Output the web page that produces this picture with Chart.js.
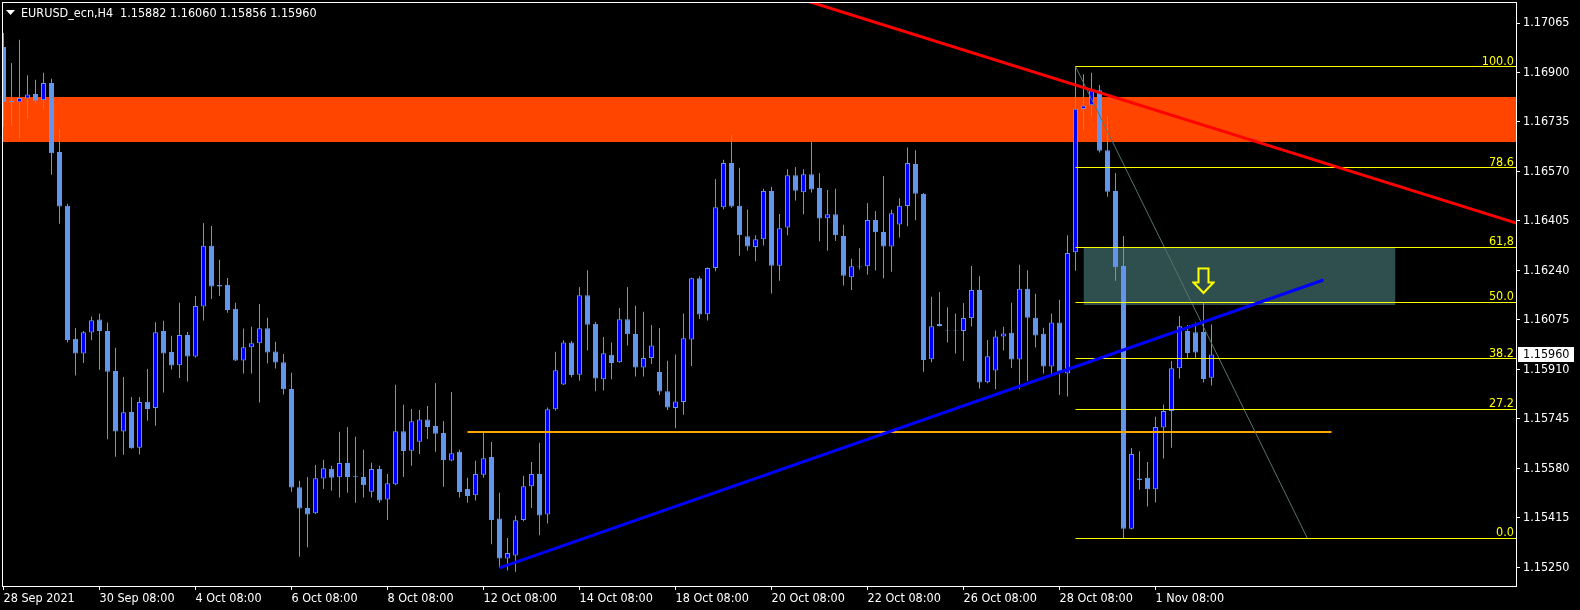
<!DOCTYPE html>
<html><head><meta charset="utf-8">
<script src="https://cdn.jsdelivr.net/npm/chart.js@4.4.1/dist/chart.umd.min.js"></script>
<style>html,body{margin:0;padding:0;background:#000;overflow:hidden}canvas{display:block}</style>
</head><body>
<canvas id="c" width="1580" height="610"></canvas>
<script>
const symbol = "EURUSD_ecn,H4";
const opens = [1.16985,1.16806,1.16801,1.16813,1.16828,1.16808,1.16865,1.16635,1.16456,1.16012,1.15963,1.16033,1.16076,1.16038,1.15905,1.15703,1.15768,1.15649,1.15802,1.15781,1.16038,1.15968,1.15924,1.16025,1.15953,1.16120,1.16322,1.16191,1.16192,1.16112,1.15940,1.15984,1.15997,1.16047,1.15970,1.15934,1.15845,1.15517,1.15448,1.15430,1.15546,1.15579,1.15550,1.15598,1.15554,1.15551,1.15502,1.15578,1.15476,1.15527,1.15704,1.15639,1.15669,1.15743,1.15721,1.15698,1.15606,1.15635,1.15511,1.15490,1.15559,1.15618,1.15413,1.15279,1.15289,1.15408,1.15520,1.15561,1.15426,1.15777,1.15860,1.16000,1.15892,1.16157,1.16062,1.15877,1.15959,1.15934,1.16077,1.16028,1.15916,1.15948,1.15901,1.15837,1.15781,1.15801,1.16010,1.16214,1.16094,1.16248,1.16451,1.16598,1.16456,1.16354,1.16318,1.16344,1.16505,1.16256,1.16383,1.16557,1.16501,1.16561,1.16515,1.16414,1.16427,1.16355,1.16217,1.16255,1.16254,1.16408,1.16368,1.16320,1.16393,1.16455,1.16595,1.16495,1.15944,1.16061,1.16040,1.16040,1.16038,1.16081,1.16175,1.15867,1.15906,1.16020,1.16032,1.15943,1.16179,1.16082,1.16029,1.15920,1.16066,1.15896,1.16301,1.16778,1.16791,1.16841,1.16641,1.16505,1.16255,1.15379,1.15546,1.15549,1.15510,1.15716,1.15771,1.15914,1.16038,1.16034,1.16035,1.15882];
const highs = [1.17032,1.16932,1.17009,1.16891,1.16876,1.16899,1.16879,1.16712,1.16462,1.16048,1.16038,1.16086,1.16096,1.16066,1.15982,1.15885,1.15818,1.15818,1.15911,1.16067,1.16072,1.16022,1.16132,1.16035,1.16155,1.16398,1.16388,1.16276,1.16215,1.16132,1.16046,1.16052,1.16128,1.16082,1.16002,1.15961,1.15899,1.15539,1.15551,1.15591,1.15609,1.15589,1.15702,1.15718,1.15685,1.15642,1.15599,1.15589,1.15561,1.15859,1.15792,1.15778,1.15775,1.15788,1.15865,1.15738,1.15835,1.15642,1.15549,1.15605,1.15699,1.15668,1.15499,1.15348,1.15423,1.15555,1.15601,1.15665,1.15783,1.15969,1.16007,1.16005,1.16185,1.16241,1.16068,1.16018,1.16000,1.16115,1.16185,1.16122,1.16102,1.16058,1.16048,1.15939,1.15960,1.16096,1.16216,1.16221,1.16250,1.16545,1.16609,1.16692,1.16582,1.16443,1.16357,1.16512,1.16519,1.16428,1.16577,1.16585,1.16577,1.16670,1.16565,1.16508,1.16512,1.16392,1.16279,1.16314,1.16465,1.16438,1.16555,1.16442,1.16481,1.16650,1.16641,1.16498,1.16152,1.16168,1.16117,1.16096,1.16131,1.16255,1.16221,1.16008,1.16040,1.16052,1.16132,1.16259,1.16241,1.16162,1.16049,1.16096,1.16142,1.16357,1.16921,1.16894,1.16899,1.16858,1.16756,1.16565,1.16355,1.15648,1.15637,1.15601,1.15752,1.15793,1.15938,1.16088,1.16058,1.16066,1.16132,1.16060];
const lows = [1.16719,1.16722,1.16680,1.16747,1.16797,1.16776,1.16559,1.16396,1.16000,1.15890,1.15931,1.16007,1.15909,1.15677,1.15619,1.15625,1.15645,1.15626,1.15739,1.15722,1.15833,1.15910,1.15881,1.15870,1.15950,1.16073,1.16145,1.16155,1.16099,1.15938,1.15896,1.15896,1.15800,1.15930,1.15913,1.15826,1.15502,1.15285,1.15317,1.15428,1.15511,1.15505,1.15483,1.15499,1.15465,1.15483,1.15483,1.15465,1.15408,1.15524,1.15551,1.15589,1.15628,1.15678,1.15635,1.15519,1.15604,1.15483,1.15465,1.15473,1.15549,1.15327,1.15248,1.15239,1.15235,1.15404,1.15448,1.15357,1.15396,1.15772,1.15858,1.15884,1.15872,1.15973,1.15837,1.15840,1.15877,1.15932,1.15990,1.15886,1.15886,1.15928,1.15825,1.15775,1.15714,1.15759,1.15921,1.16078,1.16073,1.16237,1.16444,1.16449,1.16289,1.16306,1.16271,1.16323,1.16163,1.16206,1.16357,1.16473,1.16427,1.16500,1.16337,1.16306,1.16338,1.16190,1.16175,1.16243,1.16226,1.16240,1.16214,1.16236,1.16350,1.16387,1.16407,1.15902,1.15934,1.16053,1.16000,1.15963,1.15938,1.16053,1.15846,1.15864,1.15844,1.15973,1.15915,1.15844,1.15871,1.15983,1.15896,1.15891,1.15825,1.15820,1.16239,1.16708,1.16753,1.16633,1.16486,1.16206,1.15347,1.15376,1.15509,1.15453,1.15466,1.15613,1.15649,1.15880,1.15947,1.15947,1.15866,1.15856];
const closes = [1.16801,1.16801,1.16815,1.16827,1.16806,1.16865,1.16631,1.16453,1.16008,1.15963,1.16034,1.16074,1.16038,1.15902,1.15703,1.15767,1.15647,1.15801,1.15778,1.16034,1.15963,1.15923,1.16025,1.15953,1.16121,1.16322,1.16186,1.16186,1.16108,1.15940,1.15984,1.15997,1.16047,1.15966,1.15933,1.15844,1.15516,1.15446,1.15426,1.15547,1.15580,1.15549,1.15598,1.15551,1.15550,1.15524,1.15578,1.15473,1.15530,1.15704,1.15638,1.15737,1.15743,1.15718,1.15695,1.15608,1.15630,1.15501,1.15488,1.15561,1.15614,1.15408,1.15279,1.15298,1.15407,1.15520,1.15561,1.15423,1.15777,1.15907,1.16000,1.15891,1.16157,1.16059,1.15880,1.15964,1.15931,1.16077,1.16027,1.15916,1.15948,1.15990,1.15836,1.15783,1.15803,1.16014,1.16214,1.16093,1.16248,1.16451,1.16598,1.16453,1.16357,1.16320,1.16344,1.16505,1.16256,1.16381,1.16557,1.16506,1.16561,1.16510,1.16413,1.16427,1.16357,1.16222,1.16254,1.16253,1.16408,1.16367,1.16320,1.16431,1.16456,1.16598,1.16496,1.15941,1.16054,1.16055,1.16038,1.16038,1.16081,1.16175,1.15866,1.15954,1.16020,1.16030,1.15943,1.16179,1.16082,1.16023,1.15920,1.16066,1.15902,1.16298,1.16779,1.16790,1.16840,1.16639,1.16502,1.16251,1.15379,1.15628,1.15540,1.15510,1.15718,1.15771,1.15914,1.16054,1.15965,1.15966,1.15878,1.15960];

const timeTickIndex = [0,12,24,36,48,60,72,84,96,108,120,132,144];
const timeTickLabels = ["28 Sep 2021","30 Sep 08:00","4 Oct 08:00","6 Oct 08:00","8 Oct 08:00","12 Oct 08:00","14 Oct 08:00","18 Oct 08:00","20 Oct 08:00","22 Oct 08:00","26 Oct 08:00","28 Oct 08:00","1 Nov 08:00"];
const priceTicks = [1.15250,1.15415,1.15580,1.15745,1.15910,1.16075,1.16240,1.16405,1.16570,1.16735,1.16900,1.17065];

// drawn objects (bar index, price)
const resistanceZone = [1.168183, 1.166683];
const targetZoneBars = [135, 174];
const targetZone = [1.163181, 1.161247];
const redTrendBars = [95, 189.2];
const redTrendPrices = [1.17184, 1.16397];
const blueTrendBars = [62, 165];
const blueTrendPrices = [1.15248, 1.16208];
const orangeLineBars = [58, 166];
const orangeLinePrice = 1.157012;
const fibStartBar = 134;
const fibNames = ["0.0","27.2","38.2","50.0","61,8","78.6","100.0"];
const fibPrices = [1.153461,1.157763,1.159463,1.161331,1.163165,1.165832,1.169200];
const fibDiagBars = [134, 163];
const arrowBar = 150;
const arrowPrice = 1.16205;

const X_MIN = -0.1875, X_MAX = 189.0625;
const Y_MIN = 1.151877, Y_MAX = 1.171351;
const BULL = '#0000FF', BEAR = '#6495ED', WICK = '#6495ED';
const FONT = "'DejaVu Sans Condensed','DejaVu Sans',sans-serif";
const FSIZE = 12.5;
Chart.defaults.font.family = FONT;
Chart.defaults.font.size = FSIZE;

const idx = closes.map((_, i) => i);
const bodyData = idx.map(i => ({x: i, y: [opens[i], closes[i]]}));
const wickData = idx.map(i => ({x: i, y: [lows[i], highs[i]]}));
const bodyColors = idx.map(i => closes[i] > opens[i] ? BULL : BEAR);

// arrow glyph
const arrowImg = document.createElement('canvas');
arrowImg.width = 23; arrowImg.height = 28;
(function(){
  const g = arrowImg.getContext('2d');
  g.strokeStyle = '#FFFF00'; g.lineWidth = 2; g.lineJoin = 'miter';
  g.beginPath();
  g.moveTo(6.5,1.5); g.lineTo(16.5,1.5); g.lineTo(16.5,15.5); g.lineTo(21.5,15.5);
  g.lineTo(11.5,26); g.lineTo(1.5,15.5); g.lineTo(6.5,15.5); g.closePath();
  g.stroke();
})();

function hline(bars, price) { return [{x: bars[0], y: price}, {x: bars[1], y: price}]; }
const lineBase = {type: 'line', pointRadius: 0, clip: 0, fill: false, tension: 0};

const datasets = [
  Object.assign({}, lineBase, {data: hline([X_MIN, X_MAX], resistanceZone[0]), fill: {value: resistanceZone[1]},
    backgroundColor: '#FF4500', borderColor: 'rgba(0,0,0,0)', borderWidth: 0, order: 20}),
  Object.assign({}, lineBase, {data: hline(targetZoneBars, targetZone[0]), fill: {value: targetZone[1]},
    backgroundColor: '#2F4F4F', borderColor: 'rgba(0,0,0,0)', borderWidth: 0, order: 19}),
  {type: 'bar', data: wickData, backgroundColor: WICK, borderWidth: 0, barThickness: 1, grouped: false, inflateAmount: 0, order: 11},
  {type: 'bar', data: bodyData, backgroundColor: bodyColors, borderColor: WICK, borderWidth: 1, borderSkipped: false, barThickness: 5, grouped: false, inflateAmount: 0, order: 10},
  Object.assign({}, lineBase, {data: hline(orangeLineBars, orangeLinePrice), borderColor: '#FFA500', borderWidth: 2, order: 5}),
  Object.assign({}, lineBase, {data: [{x: fibDiagBars[0], y: fibPrices[6]}, {x: fibDiagBars[1], y: fibPrices[0]}], borderColor: '#55756b', borderWidth: 1, order: 4}),
  ...fibPrices.map(p => Object.assign({}, lineBase, {data: hline([fibStartBar, X_MAX], p), borderColor: '#FFFF00', borderWidth: 1, order: 3})),
  Object.assign({}, lineBase, {data: [{x: blueTrendBars[0], y: blueTrendPrices[0]}, {x: blueTrendBars[1], y: blueTrendPrices[1]}], borderColor: '#0000FF', borderWidth: 3, order: 2}),
  Object.assign({}, lineBase, {data: [{x: redTrendBars[0], y: redTrendPrices[0]}, {x: redTrendBars[1], y: redTrendPrices[1]}], borderColor: '#FF0000', borderWidth: 3, order: 2}),
  {type: 'line', showLine: false, data: [{x: arrowBar, y: arrowPrice}], pointStyle: arrowImg, pointRadius: 5, order: 1}
];

const bgPlugin = {id: 'bg', beforeDraw(c) { const g = c.ctx; g.save(); g.fillStyle = '#000'; g.fillRect(0, 0, c.width, c.height); g.restore(); }};
const overlay = {id: 'overlay', afterDraw(c) {
  const g = c.ctx, a = c.chartArea, y = c.scales.y;
  g.save();
  g.strokeStyle = '#fff'; g.lineWidth = 1;
  g.strokeRect(a.left + 0.5, a.top + 0.5, a.right - a.left, a.bottom - a.top);
  g.font = FSIZE + 'px ' + FONT;
  // fib labels
  g.fillStyle = '#FFFF00'; g.textAlign = 'right'; g.textBaseline = 'alphabetic';
  fibPrices.forEach((p, i) => g.fillText(fibNames[i], a.right - 2, y.getPixelForValue(p) - 2));
  // current price box
  const last = closes.length - 1;
  const py = Math.round(y.getPixelForValue(closes[last]));
  g.fillStyle = '#fff'; g.fillRect(a.right + 2, py - 7, 56, 15);
  g.fillStyle = '#000'; g.textAlign = 'left'; g.textBaseline = 'middle';
  g.fillText(closes[last].toFixed(5), a.right + 7, py + 1);
  // title
  g.fillStyle = '#fff'; g.textBaseline = 'alphabetic';
  g.beginPath(); g.moveTo(6, 10); g.lineTo(15, 10); g.lineTo(10.5, 15); g.closePath(); g.fill();
  g.fillText(symbol, 21, 17);
  g.fillText([opens[last], highs[last], lows[last], closes[last]].map(v => v.toFixed(5)).join(' '), 120, 17);
  g.restore();
}};

function noPad(s) { s.paddingLeft = 0; s.paddingRight = 0; s.paddingTop = 0; s.paddingBottom = 0; }

new Chart(document.getElementById('c'), {
  type: 'bar',
  data: {datasets},
  plugins: [bgPlugin, overlay],
  options: {
    responsive: false, animation: false, devicePixelRatio: 1, events: [],
    layout: {autoPadding: false, padding: {left: 2, top: 2, right: 0, bottom: 0}},
    plugins: {legend: {display: false}, tooltip: {enabled: false}, title: {display: false}},
    scales: {
      x: {type: 'linear', min: X_MIN, max: X_MAX, offset: false,
        grid: {display: true, offset: false, drawOnChartArea: false, drawTicks: true, tickLength: 4, color: '#fff'},
        border: {display: false},
        ticks: {color: '#fff', autoSkip: false, maxRotation: 0, minRotation: 0, align: 'start', padding: 1,
          callback: (v) => { const j = timeTickIndex.indexOf(v); return j >= 0 ? timeTickLabels[j] : ''; }},
        afterBuildTicks: s => { s.ticks = timeTickIndex.map(v => ({value: v})); },
        afterFit: s => { s.height = 24; noPad(s); }
      },
      y: {type: 'linear', position: 'right', min: Y_MIN, max: Y_MAX,
        grid: {display: true, drawOnChartArea: false, drawTicks: true, tickLength: 4, color: '#fff'},
        border: {display: false},
        ticks: {color: '#fff', padding: 3, autoSkip: false, callback: v => Number(v).toFixed(5)},
        afterBuildTicks: s => { s.ticks = priceTicks.map(v => ({value: v})); },
        afterFit: s => { s.width = 64; noPad(s); }
      }
    }
  }
});
</script>
</body></html>
